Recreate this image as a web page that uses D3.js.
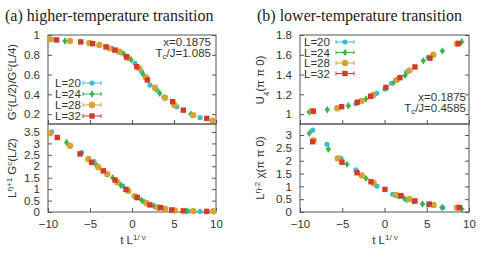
<!DOCTYPE html>
<html>
<head>
<meta charset="utf-8">
<script src="https://cdn.jsdelivr.net/npm/d3@7"></script>
<style>
  body { margin: 0; background: #fff; }
  svg text { font-family: "Liberation Sans", Arial, sans-serif; fill: #333; }
  svg text.title { font-family: "Liberation Serif", "Times New Roman", serif; fill: #222; font-weight: normal; }
</style>
</head>
<body>
<div id="chart"></div>
<script>
// ---- data: [t L^(1/nu), value] ----
const sizes = ["L=20", "L=24", "L=28", "L=32"];
const colors = ["#35c1cb", "#3bb44a", "#d8a234", "#d23a2c"];
const shapes = ["circle", "plus", "bigcircle", "square"];

// (a) top: G^c(L/2)/G^c(L/4)
const aTop20 = [[-9.56, 0.955], [-4.92, 0.916], [-1.23, 0.82], [-0.3, 0.76], [0.36, 0.714], [1.15, 0.63], [2.14, 0.494], [2.94, 0.444], [3.8, 0.372], [5.32, 0.275], [8.1, 0.164]];
const aTop24 = [[-7.98, 0.94], [-2.3, 0.855], [-0.95, 0.805], [-0.1, 0.75], [1.35, 0.6], [3.3, 0.41], [7.0, 0.2]];
const aTop28 = [[-9.76, 0.956], [-7.38, 0.94], [-5.08, 0.92], [-3.89, 0.9], [-2.7, 0.865], [-1.51, 0.83], [-0.56, 0.77], [0.87, 0.663], [1.67, 0.57], [2.74, 0.467], [3.93, 0.366], [5.04, 0.292], [7.3, 0.19], [9.6, 0.134]];
const aTop32 = [[-8.97, 0.95], [-6.1, 0.93], [-4.68, 0.912], [-3.1, 0.88], [-2.02, 0.848], [-0.63, 0.78], [0.56, 0.68], [1.83, 0.545], [4.84, 0.326], [6.11, 0.24], [8.9, 0.157]];

// (a) bottom: L^(eta+1) G^c(L/2)
const aBot20 = [[-9.56, 3.51], [-5.99, 2.6], [-4.52, 2.2], [-1.11, 1.14], [0.24, 0.71], [1.43, 0.45], [2.94, 0.23], [6.7, 0.04], [8.1, 0.03]];
const aBot24 = [[-7.78, 3.04], [-4.2, 2.03], [-2.3, 1.5], [-1.35, 1.18], [1.15, 0.52], [2.62, 0.26], [6.5, 0.04]];
const aBot28 = [[-9.76, 3.44], [-7.38, 2.9], [-5.2, 2.32], [-4.0, 1.96], [-2.94, 1.65], [-1.75, 1.3], [-0.44, 0.92], [0.4, 0.68], [1.75, 0.38], [3.1, 0.2], [3.93, 0.13], [5.1, 0.07], [7.3, 0.04], [9.7, 0.03]];
const aBot32 = [[-8.9, 3.26], [-6.19, 2.54], [-4.8, 2.17], [-3.42, 1.8], [-2.02, 1.4], [-0.71, 0.99], [0.63, 0.63], [2.14, 0.31], [3.41, 0.19], [4.72, 0.09], [6.1, 0.05], [8.9, 0.03]];

// (b) top: U_4(pi pi 0)
const bTop20 = [[-3.37, 1.105], [-0.93, 1.21], [0.05, 1.253], [0.84, 1.312], [2.62, 1.424], [5.18, 1.573]];
const bTop24 = [[-8.9, 1.022], [-6.77, 1.045], [-4.28, 1.085], [-2.19, 1.154], [1.12, 1.325], [2.43, 1.39], [4.59, 1.54], [6.85, 1.639], [9.14, 1.731]];
const bTop28 = [[-8.55, 1.03], [-5.59, 1.06], [-2.7, 1.134], [-1.33, 1.194], [1.44, 1.345], [2.94, 1.44], [5.78, 1.6], [8.6, 1.712]];
const bTop32 = [[-8.43, 1.03], [-5.07, 1.075], [-3.22, 1.12], [-1.64, 1.18], [0.17, 1.27], [1.83, 1.368], [3.6, 1.477], [5.38, 1.566], [8.74, 1.714]];

// (b) bottom: L^(eta-2) chi(pi pi 0)
const bBot20 = [[-8.5, 3.19], [-6.8, 2.64], [-5.15, 2.09], [-3.37, 1.64], [-0.89, 1.01], [0.96, 0.69], [1.74, 0.6], [2.66, 0.47], [3.46, 0.4], [5.18, 0.27], [6.9, 0.17]];
const bBot24 = [[-8.9, 3.07], [-6.64, 2.45], [-4.44, 1.86], [-2.19, 1.31], [2.34, 0.53], [4.5, 0.31], [6.8, 0.18], [9.14, 0.12]];
const bBot28 = [[-8.39, 2.8], [-5.53, 2.09], [-2.7, 1.42], [-1.28, 1.12], [1.36, 0.66], [2.94, 0.51], [5.81, 0.27], [8.58, 0.17]];
const bBot32 = [[-8.5, 2.74], [-5.03, 1.94], [-3.25, 1.53], [-1.6, 1.18], [0.05, 0.88], [1.95, 0.64], [3.6, 0.43], [5.3, 0.31], [8.85, 0.17]];

const xTicks = [-10, -5, 0, 5, 10];
const aTopTicks = [0.2, 0.4, 0.6, 0.8, 1];
const aBotTicks = [0, 0.5, 1, 1.5, 2, 2.5, 3, 3.5];
const bTopTicks = [1, 1.2, 1.4, 1.6, 1.8];
const bBotTicks = [0, 0.5, 1, 1.5, 2, 2.5, 3];

const W = 482, H = 256;
const svg = d3.select("#chart").append("svg").attr("width", W).attr("height", H);

const top0 = 35, mid = 124, bot = 212;

function drawPanel(x, yDomain, yTicks, y0, y1, series, showXLabels) {
  const y = d3.scaleLinear().domain(yDomain).range([y1, y0]);
  const [xl, xr] = x.range();
  const g = svg.append("g");

  // x ticks (inward, bottom edge)
  g.append("g")
    .attr("transform", `translate(0,${y1})`)
    .call(d3.axisBottom(x).tickValues(xTicks).tickSizeInner(-4).tickSizeOuter(0)
      .tickPadding(8).tickFormat(showXLabels ? d3.format("d") : ""))
    .call(a => a.select(".domain").remove())
    .call(a => a.selectAll("line").attr("stroke", "#555"))
    .call(a => a.selectAll("text").attr("font-size", 11.5).style("font-family", "Liberation Sans, Arial, sans-serif").attr("fill", "#333"));

  // y ticks left (inward) + labels
  g.append("g")
    .attr("transform", `translate(${xl},0)`)
    .call(d3.axisLeft(y).tickValues(yTicks).tickSizeInner(-4).tickSizeOuter(0)
      .tickPadding(8).tickFormat(d => d))
    .call(a => a.select(".domain").remove())
    .call(a => a.selectAll("line").attr("stroke", "#555"))
    .call(a => a.selectAll("text").attr("font-size", 11.5).style("font-family", "Liberation Sans, Arial, sans-serif").attr("fill", "#333"));

  // y ticks right (inward, mirrored)
  g.append("g")
    .attr("transform", `translate(${xr},0)`)
    .call(d3.axisRight(y).tickValues(yTicks).tickSizeInner(-4).tickSizeOuter(0).tickFormat(""))
    .call(a => a.select(".domain").remove())
    .call(a => a.selectAll("line").attr("stroke", "#555"));

  // frame
  g.append("rect")
    .attr("x", xl).attr("y", y0)
    .attr("width", xr - xl).attr("height", y1 - y0)
    .attr("fill", "none").attr("stroke", "#555").attr("stroke-width", 1);

  const pts = g.append("g");
  series.forEach((data, i) => {
    data.forEach(d => {
      drawMarker(pts, shapes[i], colors[i], x(d[0]), y(d[1]));
    });
  });
  return y;
}

function drawMarker(sel, shape, color, cx, cy) {
  if (shape === "circle") {
    sel.append("circle").attr("cx", cx).attr("cy", cy).attr("r", 2.6).attr("fill", color);
  } else if (shape === "bigcircle") {
    sel.append("circle").attr("cx", cx).attr("cy", cy).attr("r", 3.2).attr("fill", color);
  } else if (shape === "square") {
    sel.append("rect").attr("x", cx - 2.7).attr("y", cy - 2.7).attr("width", 5.4).attr("height", 5.4).attr("fill", color);
  } else {
    sel.append("path")
      .attr("d", d3.symbol().type(d3.symbolDiamond).size(16)())
      .attr("transform", `translate(${cx},${cy})`)
      .attr("fill", color);
    sel.append("path")
      .attr("d", d3.symbol().type(d3.symbolCross).size(14)())
      .attr("transform", `translate(${cx},${cy})`)
      .attr("fill", color);
  }
}

function legend(x0, y0, dy, lx0, lx1) {
  sizes.forEach((s, i) => {
    const yy = y0 + i * dy;
    svg.append("text").attr("x", x0).attr("y", yy + 4).attr("font-size", 11.5).text(s);
    svg.append("line").attr("x1", lx0).attr("x2", lx1).attr("y1", yy).attr("y2", yy)
      .attr("stroke", colors[i]).attr("stroke-width", 1);
    [lx0, lx1].forEach(xx => svg.append("line").attr("x1", xx).attr("x2", xx)
      .attr("y1", yy - 2).attr("y2", yy + 2).attr("stroke", colors[i]));
    drawMarker(svg, shapes[i], colors[i], (lx0 + lx1) / 2, yy);
  });
}

function yLabel(cx, cy, parts) {
  const t = svg.append("text")
    .attr("transform", `translate(${cx},${cy}) rotate(-90)`)
    .attr("text-anchor", "middle").attr("font-size", 11.5);
  parts.forEach(p => {
    const ts = t.append("tspan").text(p[0]);
    if (p[1] === "sup") ts.attr("baseline-shift", "super").attr("font-size", 8);
    if (p[1] === "sub") ts.attr("baseline-shift", "sub").attr("font-size", 8);
  });
}

function xLabel(cx, cy) {
  const t = svg.append("text").attr("x", cx).attr("y", cy).attr("text-anchor", "middle").attr("font-size", 11.5);
  t.append("tspan").text("t L");
  t.append("tspan").attr("baseline-shift", "super").attr("font-size", 8).text("1/ ν");
}

function note(xr, y, lines) {
  lines.forEach((l, i) => {
    const t = svg.append("text").attr("x", xr).attr("y", y + i * 10.5)
      .attr("text-anchor", "end").attr("font-size", 11.5);
    if (i === 0) t.text(l);
    else {
      t.append("tspan").text("T");
      t.append("tspan").attr("font-size", 8).attr("dy", 2).text("c");
      t.append("tspan").attr("dy", -2).text(l);
    }
  });
}

// ---- panel (a) ----
const xa = d3.scaleLinear().domain([-10, 10]).range([48, 216]);
drawPanel(xa, [0.1, 1.0], aTopTicks, top0, mid, [aTop20, aTop24, aTop28, aTop32], false);
drawPanel(xa, [0, 3.85], aBotTicks, mid, bot, [aBot20, aBot24, aBot28, aBot32], true);

// ---- panel (b) ----
const xb = d3.scaleLinear().domain([-10, 10]).range([300, 469]);
drawPanel(xb, [0.9, 1.8], bTopTicks, top0, mid, [bTop20, bTop24, bTop28, bTop32], false);
drawPanel(xb, [0, 3.43], bBotTicks, mid, bot, [bBot20, bBot24, bBot28, bBot32], true);

// titles
svg.append("text").attr("class", "title").attr("x", 5).attr("y", 21).attr("font-size", 16)
  .text("(a) higher-temperature transition");
svg.append("text").attr("class", "title").attr("x", 257).attr("y", 21).attr("font-size", 16)
  .text("(b) lower-temperature transition");

// axis labels
yLabel(16, 82, [["G"], ["c", "sup"], ["(L/2)/G"], ["c", "sup"], ["(L/4)"]]);
yLabel(16, 168, [["L"], ["η+1", "sup"], [" G"], ["c", "sup"], ["(L/2)"]]);
yLabel(264, 80, [["U"], ["4", "sub"], ["(π π 0)"]]);
yLabel(264, 168, [["L"], ["η-2", "sup"], [" χ(π π 0)"]]);
xLabel(133, 244);
xLabel(385, 244);

// legends and notes
legend(55, 83, 11, 83, 101);
legend(304, 42, 10.5, 336, 354);
note(211, 46, ["x=0.1875", "/J=1.085"]);
note(466, 101, ["x=0.1875", "/J=0.4585"]);
</script>
</body>
</html>
